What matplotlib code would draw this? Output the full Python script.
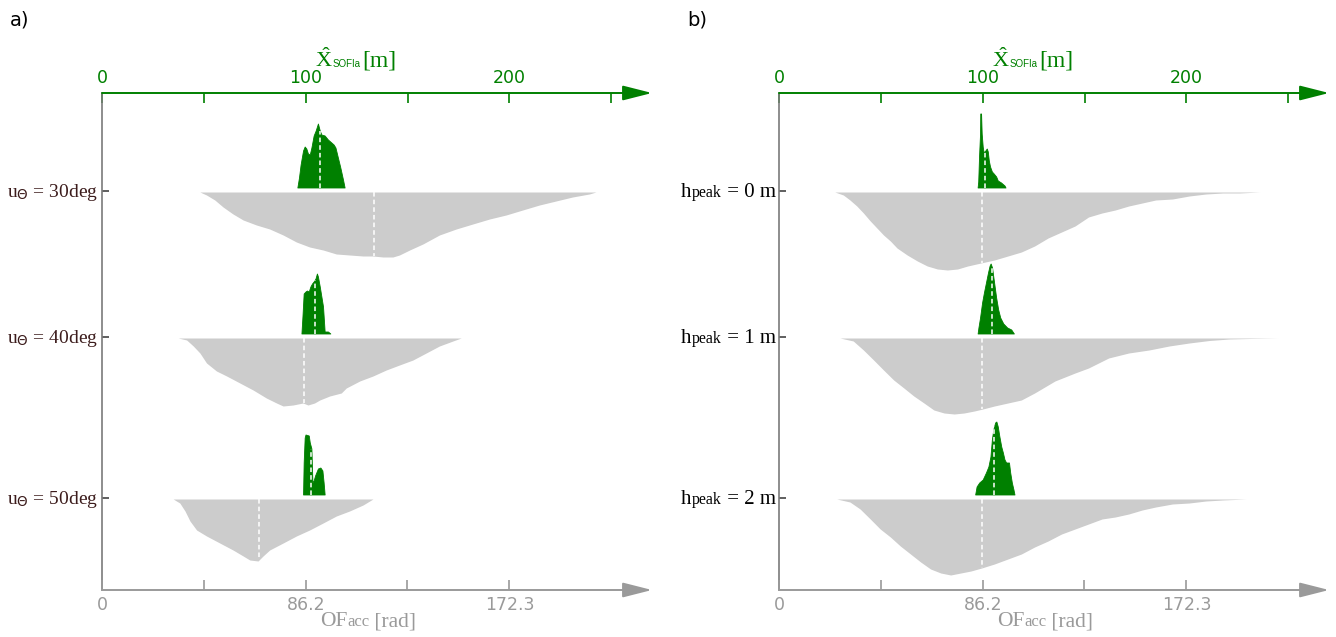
import matplotlib

matplotlib.use("Agg")

import matplotlib.pyplot as plt  # noqa: E402
import numpy as np  # noqa: E402
from matplotlib.offsetbox import AnnotationBbox, HPacker, TextArea  # noqa: E402

plt.rcParams["mathtext.fontset"] = "custom"
plt.rcParams["mathtext.rm"] = "Liberation Serif"
plt.rcParams["mathtext.it"] = "Liberation Serif:italic"
plt.rcParams["mathtext.sf"] = "DejaVu Sans"

GREEN = "#008000"
GREY_FILL = "#cccccc"
AXIS_GREY = "#9a9a9a"
LEFT_AXIS = "#7a7a7a"
BROWN = "#3c1c1c"
SERIF = "Liberation Serif"

# rad per metre: 86.2 rad sits under 100 m
RAD_PER_M = 0.8615
X_MAX_M = 270

# ---- panel a: estimate distributions (green, metres) ----
A_G1_X = [95.9, 96.7, 97.5, 98.7, 99.5, 100.3, 101.1, 102.0, 102.8, 103.9, 104.9, 106.0,
          106.9, 107.7, 109.3, 110.9, 112.6, 113.7, 114.6, 115.8, 117.0, 118.3, 119.1]
A_G1_H = [0, 10, 23, 37, 41, 39, 34, 33, 40, 52, 57, 64, 57, 53, 52, 48, 45, 43, 40, 30, 20, 8, 0]
A_G2_X = [97.9, 98.4, 99.0, 99.9, 100.6, 101.5, 102.3, 103.1, 103.9, 104.8, 105.5, 106.0,
          106.9, 107.7, 108.5, 109.3, 110.9, 112.1]
A_G2_H = [0, 17, 40, 42, 43, 42, 47, 50, 52, 55, 60, 57, 47, 37, 27, 2, 2, 0]
A_G3_X = [98.7, 99.0, 99.5, 99.9, 101.5, 102.0, 102.8, 103.3, 103.9, 104.6, 105.2, 106.0,
          107.2, 108.2, 108.8, 109.3]
A_G3_H = [0, 32, 57, 60, 59, 52, 46, 12, 14, 19, 22, 26, 27, 24, 12, 0]
A_G_MEAN = [106.9, 104.4, 102.8]

# ---- panel a: accumulated optic flow (grey, rad) ----
A_R1_X = [41.4, 44.2, 47.7, 51.2, 55.4, 59.7, 65.3, 70.9, 76.6, 82.2, 87.8, 93.5, 99.1, 104.7,
          110.4, 114.6, 118.8, 123.0, 125.8, 130.1, 135.7, 142.7, 149.8, 156.8, 163.9, 170.9,
          177.9, 185.0, 192.0, 199.0, 206.1, 208.9]
A_R1_D = [0, 3, 8, 15, 22, 28, 33, 37, 43, 50, 55, 58, 62, 63, 64, 64, 65, 65, 63, 58, 52, 43,
          37, 32, 27, 23, 18, 13, 9, 5, 2, 0]
A_R2_X = [32.2, 35.8, 38.6, 41.4, 44.2, 48.4, 52.7, 58.3, 63.9, 69.5, 73.8, 76.6, 80.8, 85.0,
          87.1, 89.9, 92.1, 96.3, 101.2, 103.3, 109.0, 114.6, 120.2, 125.8, 131.5, 137.1, 142.7,
          148.4, 151.9]
A_R2_D = [0, 2, 8, 15, 25, 33, 38, 45, 52, 60, 65, 68, 67, 65, 67, 65, 62, 58, 55, 50, 43, 38,
          32, 27, 22, 15, 8, 3, 0]
A_R3_X = [30.1, 32.9, 35.1, 37.2, 40.0, 44.2, 49.8, 55.4, 59.7, 62.5, 66.0, 68.1, 70.9, 76.6,
          82.2, 87.8, 93.5, 99.1, 104.7, 110.4, 114.6]
A_R3_D = [0, 4, 12, 22, 31, 37, 44, 51, 57, 61, 62, 57, 51, 44, 37, 31, 24, 17, 12, 6, 0]
A_R_MEAN = [115.0, 85.3, 66.4]
A_ANGLES = ["30", "40", "50"]

# ---- panel b ----
B_G1_X = [97.5, 97.8, 98.2, 98.7, 98.8, 99.2, 99.5, 100.0, 100.5, 100.8, 101.3, 102.0, 102.5,
          103.0, 103.6, 104.5, 105.4, 106.6, 107.4, 109.0, 110.7, 111.2]
B_G1_H = [0, 6, 31, 54, 74, 74, 54, 41, 34, 36, 37, 39, 36, 27, 21, 16, 14, 11, 7, 5, 2, 0]
B_G2_X = [97.5, 97.9, 98.7, 99.7, 100.6, 101.6, 102.6, 103.4, 103.9, 104.6, 105.6, 106.6,
          107.6, 108.6, 110.1, 112.0, 114.0, 115.3]
B_G2_H = [0, 6, 16, 31, 41, 51, 61, 68, 70, 66, 51, 36, 24, 16, 10, 6, 4, 0]
B_G3_X = [96.3, 97.0, 98.3, 100.0, 101.6, 102.8, 103.8, 104.5, 105.2, 106.1, 106.7, 107.4,
          108.2, 109.1, 109.9, 110.7, 111.5, 112.9, 113.5, 114.3, 115.1, 115.6]
B_G3_H = [0, 8, 12, 15, 22, 28, 38, 55, 65, 72, 73, 68, 58, 48, 42, 35, 32, 32, 22, 12, 5, 0]
B_G_MEAN = [101.1, 104.4, 105.6]

B_R1_X = [23.6, 27.2, 30.0, 32.9, 35.7, 38.6, 41.4, 44.2, 47.1, 49.9, 54.2, 58.5, 62.7, 67.0,
          71.2, 75.5, 79.8, 85.4, 91.1, 96.8, 102.5, 108.1, 113.8, 119.5, 125.2, 130.9, 136.6,
          142.2, 147.9, 153.6, 159.3, 166.4, 173.5, 180.6, 187.7, 194.8, 203.3]
B_R1_D = [0, 3, 8, 14, 21, 29, 36, 43, 49, 56, 63, 69, 74, 77, 78, 77, 74, 71, 68, 64, 60, 54,
          46, 40, 34, 25, 21, 18, 14, 11, 8, 7, 4, 2, 1, 1, 0]
B_R2_X = [25.8, 31.4, 35.7, 40.0, 44.2, 48.5, 52.8, 57.0, 61.3, 65.5, 69.8, 74.1, 78.3, 82.6,
          86.2, 91.1, 96.8, 102.5, 108.1, 116.7, 125.2, 130.9, 139.4, 147.9, 156.5, 165.0,
          173.5, 182.0, 190.5, 199.1, 211.1]
B_R2_D = [0, 3, 12, 22, 32, 42, 50, 58, 65, 72, 75, 76, 75, 73, 71, 68, 65, 62, 55, 43, 35, 30,
          20, 15, 12, 8, 5, 2.5, 1, 0.5, 0]
B_R3_X = [24.4, 30.0, 34.3, 38.6, 42.8, 47.1, 51.3, 55.6, 59.9, 64.1, 68.4, 72.6, 76.9, 81.2,
          85.7, 91.1, 96.8, 102.5, 108.1, 113.8, 119.5, 125.2, 130.9, 136.6, 142.2, 147.9,
          153.6, 159.3, 166.4, 173.5, 180.6, 187.7, 197.6]
B_R3_D = [0, 3, 10, 20, 30, 38, 47, 55, 63, 70, 74, 76, 74, 72, 69, 65, 60, 55, 48, 42, 35, 30,
          25, 20, 18, 15, 11, 8, 5, 4, 2, 1, 0]
B_R_MEAN = [85.9, 86.0, 85.7]
B_PEAKS = ["0", "1", "2"]

# row baselines, in the vertical units of the panel (pixel-like scaled density)
ROW_Y = [399, 253, 92]
Y_TOP = 497
TOP_TICKS_M = [0, 50, 100, 150, 200, 250]
TOP_LABELS = ["0", "", "100", "", "200", ""]
BOT_TICKS_RAD = [0, 43.1, 86.2, 129.2, 172.3]
BOT_LABELS = ["0", "", "86.2", "", "172.3"]

W, H = 1336, 637
fig = plt.figure(figsize=(W / 100, H / 100), dpi=100)


def packed_text(ax, parts, xy, xycoords, align, offset=(0, 0)):
    areas = [TextArea(t, textprops=dict(fontsize=s, family=f, color=c))
             for t, s, f, c in parts]
    pack = HPacker(children=areas, align="baseline", pad=0, sep=0)
    ab = AnnotationBbox(pack, xy, xycoords=xycoords, xybox=offset,
                        boxcoords="offset points", box_alignment=align,
                        frameon=False, pad=0, annotation_clip=False)
    ax.add_artist(ab)


def draw_panel(left_px, greens, greys, g_means, r_means, row_parts, letter):
    ax = fig.add_axes([left_px / W, 47 / H, 550 / W, 497 / H])
    ax.set_xlim(0, X_MAX_M)
    ax.set_ylim(0, Y_TOP)
    ax2 = ax.twiny()
    ax2.set_xlim(0, X_MAX_M * RAD_PER_M)

    for (gx, gh), mean, y0 in zip(greens, g_means, ROW_Y):
        base = y0 + 3.5
        gx = np.asarray(gx)
        gh = np.asarray(gh, dtype=float)
        ax.fill_between(gx, base, base + gh, color=GREEN, lw=0.6, ec=GREEN, zorder=3)
        top = np.interp(mean, gx, gh)
        ax.plot([mean, mean], [base, base + top], color="white", lw=1.1,
                ls=(0, (3, 2)), zorder=4)

    for (rx, rd), mean, y0 in zip(greys, r_means, ROW_Y):
        base = y0 - 1
        rx = np.asarray(rx)
        rd = np.asarray(rd, dtype=float)
        ax2.fill_between(rx, base, base - rd, color=GREY_FILL, lw=0, zorder=2)
        depth = np.interp(mean, rx, rd)
        ax2.plot([mean, mean], [base, base - depth], color="white", lw=1.1,
                 ls=(0, (3, 2)), zorder=4)

    for s in ["top", "right", "bottom"]:
        ax.spines[s].set_visible(False)
        ax2.spines[s].set_visible(False)
    ax2.spines["left"].set_visible(False)
    ax.spines["left"].set_color(LEFT_AXIS)
    ax.spines["left"].set_linewidth(1.2)

    # top green axis (metres)
    ax.xaxis.set_ticks_position("top")
    ax.set_xticks(TOP_TICKS_M)
    ax.set_xticklabels(TOP_LABELS)
    ax.tick_params(axis="x", direction="in", length=7, width=1.2, color=GREEN,
                   labelcolor=GREEN, labelsize=12.5, pad=4)
    ax.annotate("", xy=(1, 1), xytext=(0, 1), xycoords="axes fraction",
                arrowprops=dict(arrowstyle="-|>,head_length=1.5,head_width=0.38",
                                color=GREEN, lw=1.4, mutation_scale=12,
                                shrinkA=0, shrinkB=0))
    packed_text(ax, [(r"$\hat{\mathrm{X}}$", 16, SERIF, GREEN),
                     ("SOFIa", 7, "Liberation Sans", GREEN),
                     (" ", 5, SERIF, GREEN),
                     ("[m]", 17, SERIF, GREEN)],
                (0.462, 1 + 33 / 497), "axes fraction", (0.5, 0.5))

    # bottom grey axis (rad)
    ax2.xaxis.set_ticks_position("bottom")
    ax2.set_xticks(BOT_TICKS_RAD)
    ax2.set_xticklabels(BOT_LABELS)
    ax2.tick_params(axis="x", direction="in", length=7, width=1.2, color=AXIS_GREY,
                    labelcolor=AXIS_GREY, labelsize=12.5, pad=4)
    ax.annotate("", xy=(1, 0), xytext=(0, 0), xycoords="axes fraction",
                arrowprops=dict(arrowstyle="-|>,head_length=1.5,head_width=0.38",
                                color=AXIS_GREY, lw=1.4, mutation_scale=12,
                                shrinkA=0, shrinkB=0))
    packed_text(ax, [("OF", 15.5, SERIF, AXIS_GREY),
                     ("acc", 12, SERIF, AXIS_GREY),
                     (" [rad]", 15.5, SERIF, AXIS_GREY)],
                (0.484, -32 / 497), "axes fraction", (0.5, 0.5))

    # row labels on the left axis
    ax.set_yticks(ROW_Y)
    ax.set_yticklabels([])
    ax.tick_params(axis="y", direction="in", length=5, width=1.2, color="#444444")
    for parts, y0 in zip(row_parts, ROW_Y):
        packed_text(ax, parts, (0, y0), ("axes fraction", "data"), (1, 0.5),
                    offset=(-2.5, -1))

    fig.text((left_px - 92) / W, 1 - 20 / H, letter, ha="left", va="center",
             fontsize=14, color="black")


A_ROWS = [[(r"u$_{\mathsf{\Theta}}$ = " + a + "deg", 14, SERIF, BROWN)] for a in A_ANGLES]
B_ROWS = [[("h", 15, SERIF, "black"), ("peak", 11.5, SERIF, "black"),
           (" = " + p + " m", 15, SERIF, "black")] for p in B_PEAKS]

draw_panel(102, [(A_G1_X, A_G1_H), (A_G2_X, A_G2_H), (A_G3_X, A_G3_H)],
           [(A_R1_X, A_R1_D), (A_R2_X, A_R2_D), (A_R3_X, A_R3_D)],
           A_G_MEAN, A_R_MEAN, A_ROWS, "a)")
draw_panel(779, [(B_G1_X, B_G1_H), (B_G2_X, B_G2_H), (B_G3_X, B_G3_H)],
           [(B_R1_X, B_R1_D), (B_R2_X, B_R2_D), (B_R3_X, B_R3_D)],
           B_G_MEAN, B_R_MEAN, B_ROWS, "b)")

fig.savefig("out.png", dpi=100)
